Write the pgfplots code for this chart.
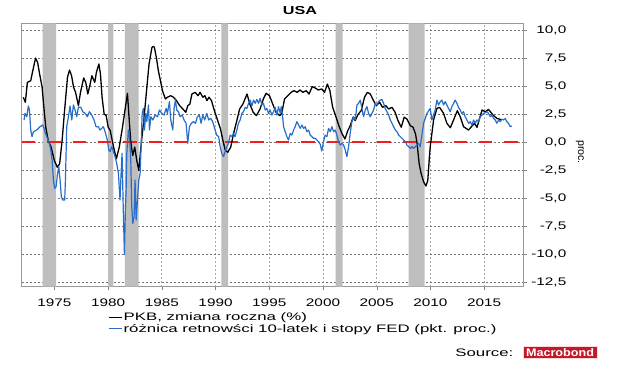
\documentclass[border=0pt]{standalone}
\usepackage{pgfplots}
\pgfplotsset{compat=1.18}
\usepackage{fontspec}
\setmainfont{Liberation Sans}
\newfontfamily\tickfont{Liberation Sans}[FakeStretch=1.4]
\newfontfamily\legfont{Liberation Sans}[FakeStretch=1.55]
\newfontfamily\logofont{Liberation Sans}[FakeStretch=1.15]
\definecolor{serblue}{RGB}{40,110,200}
\definecolor{zeroline}{RGB}{240,30,30}
\definecolor{recgray}{RGB}{190,190,190}
\definecolor{logored}{RGB}{195,25,40}
\begin{document}
\begin{tikzpicture}
\path[use as bounding box] (0,0) rectangle (640bp,367bp);
\begin{axis}[
  at={(21.7bp,80.3bp)}, anchor=south west,
  width=501.6bp, height=263.4bp, scale only axis,
  xmin=1971.96, xmax=2018.64, ymin=-12.93, ymax=10.61,
  xtick={1975,1980,...,2015},
  ytick={-12.5,-10,-7.5,-5,-2.5,0,2.5,5,7.5,10},
  yticklabel pos=right, ytick pos=right, xtick pos=bottom,
  tick align=outside, major tick length=3.5bp,
  axis line style={draw=gray!80, line width=0.7bp},
  xmajorgrids=true, ymajorgrids=true,
  major x grid style={black!35, line width=0.7bp, dash pattern=on 2bp off 2bp},
  major y grid style={black!55, line width=0.7bp, dash pattern=on 2bp off 2bp},
  /pgf/number format/assume math mode=true,
  ticklabel style={font=\tickfont\fontsize{11}{12}\selectfont},
  xticklabel style={/pgf/number format/1000 sep={}, anchor=base, yshift=-16bp},
  yticklabel style={/pgf/number format/.cd, fixed, fixed zerofill, precision=1, use comma, /tikz/.cd, anchor=east, xshift=43bp},
  legend style={at={(axis description cs:0.172,-0.096)}, anchor=north west,
    draw=none, fill=none, inner sep=0pt, outer sep=0pt,
    font=\legfont\fontsize{10.9}{12}\selectfont,
    row sep=0.3bp, nodes={inner sep=0.8bp}},
  legend cell align=left,
  legend image code/.code={\draw[#1,line width=1.3bp] (0bp,0bp) -- (13.5bp,0bp);},
]
% recession bands
\addplot[draw=none, fill=recgray, forget plot] coordinates {(1973.90,-12.93) (1975.16,-12.93) (1975.16,10.61) (1973.90,10.61) (1973.90,-12.93)};
\addplot[draw=none, fill=recgray, forget plot] coordinates {(1980.00,-12.93) (1980.50,-12.93) (1980.50,10.61) (1980.00,10.61) (1980.00,-12.93)};
\addplot[draw=none, fill=recgray, forget plot] coordinates {(1981.57,-12.93) (1982.85,-12.93) (1982.85,10.61) (1981.57,10.61) (1981.57,-12.93)};
\addplot[draw=none, fill=recgray, forget plot] coordinates {(1990.55,-12.93) (1991.17,-12.93) (1991.17,10.61) (1990.55,10.61) (1990.55,-12.93)};
\addplot[draw=none, fill=recgray, forget plot] coordinates {(2001.18,-12.93) (2001.82,-12.93) (2001.82,10.61) (2001.18,10.61) (2001.18,-12.93)};
\addplot[draw=none, fill=recgray, forget plot] coordinates {(2007.96,-12.93) (2009.45,-12.93) (2009.45,10.61) (2007.96,10.61) (2007.96,-12.93)};
% zero line
\addplot[zeroline, line width=2.8bp, dash pattern=on 13.5bp off 11.9bp, forget plot] coordinates {(1971.96,0) (2018.3,0)};
% GDP
\addplot[black, line width=1.3bp, line join=round] coordinates {
(1972.11,4.00) (1972.30,3.55) (1972.49,5.33) (1972.80,5.48) (1972.99,6.37) (1973.25,7.50) (1973.44,7.12) (1973.63,6.07) (1973.86,4.89) (1974.05,2.81) (1974.20,1.32) (1974.43,0.13) (1974.70,-0.46) (1975.00,-1.65) (1975.27,-2.25) (1975.49,-1.95) (1975.72,0.13) (1975.95,2.81) (1976.22,5.78) (1976.41,6.43) (1976.60,5.93) (1976.79,4.89) (1976.97,4.44) (1977.24,3.25) (1977.43,4.44) (1977.73,5.72) (1977.92,5.33) (1978.11,4.29) (1978.30,5.04) (1978.49,5.93) (1978.76,5.33) (1978.91,6.22) (1979.14,6.97) (1979.29,6.08) (1979.44,4.00) (1979.63,2.51) (1979.82,2.36) (1980.01,1.32) (1980.20,1.02) (1980.51,-0.46) (1980.77,-1.50) (1981.04,-0.46) (1981.34,1.32) (1981.61,3.10) (1981.80,4.35) (1981.95,2.21) (1982.10,0.13) (1982.29,-1.21) (1982.48,-0.46) (1982.67,-1.65) (1982.86,-2.54) (1983.05,-0.46) (1983.32,1.91) (1983.55,4.29) (1983.81,6.97) (1984.08,8.45) (1984.22,8.55) (1984.31,8.45) (1984.49,7.56) (1984.68,6.37) (1984.87,5.48) (1985.06,4.59) (1985.33,3.85) (1985.52,4.00) (1985.82,4.14) (1986.09,4.00) (1986.36,3.70) (1986.66,3.25) (1986.96,2.95) (1987.23,2.66) (1987.42,3.25) (1987.61,3.40) (1987.80,4.29) (1988.10,4.44) (1988.37,4.14) (1988.56,4.44) (1988.82,4.00) (1989.01,4.14) (1989.20,3.70) (1989.39,4.00) (1989.62,3.70) (1989.89,2.81) (1990.15,2.06) (1990.46,1.17) (1990.69,0.13) (1990.91,-0.76) (1991.14,-0.91) (1991.41,-0.46) (1991.67,0.73) (1991.98,1.91) (1992.24,2.95) (1992.55,3.40) (1992.93,4.29) (1993.19,3.40) (1993.50,2.66) (1993.80,2.36) (1994.14,2.95) (1994.45,3.85) (1994.71,4.35) (1995.02,4.14) (1995.32,3.40) (1995.62,2.66) (1995.96,2.36) (1996.15,2.51) (1996.42,3.85) (1996.72,4.14) (1997.03,4.44) (1997.29,4.59) (1997.60,4.44) (1997.86,4.65) (1998.13,4.44) (1998.43,4.59) (1998.70,4.29) (1999.00,4.95) (1999.27,4.83) (1999.57,4.65) (1999.88,4.74) (2000.14,4.44) (2000.41,5.18) (2000.64,4.59) (2000.90,3.10) (2001.17,2.36) (2001.47,1.47) (2001.78,0.73) (2002.04,0.28) (2002.31,1.02) (2002.54,1.47) (2002.80,2.21) (2002.99,1.91) (2003.29,2.51) (2003.56,2.81) (2003.86,4.00) (2004.13,4.44) (2004.40,4.29) (2004.70,3.70) (2004.97,3.25) (2005.27,3.55) (2005.54,3.10) (2005.84,3.25) (2006.11,2.95) (2006.41,3.10) (2006.71,2.66) (2006.98,1.91) (2007.28,1.32) (2007.55,2.21) (2007.81,2.06) (2008.12,1.47) (2008.38,1.32) (2008.61,0.73) (2008.76,-0.17) (2008.95,-1.95) (2009.14,-2.84) (2009.37,-3.58) (2009.58,-3.93) (2009.75,-3.44) (2009.90,-1.36) (2009.98,-0.40) (2010.29,1.97) (2010.60,3.00) (2010.85,3.10) (2011.22,2.56) (2011.53,1.67) (2011.85,1.28) (2012.15,1.97) (2012.50,2.80) (2012.77,2.26) (2013.08,1.37) (2013.55,1.07) (2013.86,1.43) (2014.10,1.67) (2014.33,1.31) (2014.80,2.86) (2015.10,2.70) (2015.40,2.92) (2015.82,2.41) (2016.20,2.10) (2016.60,2.00)
};
\addlegendentry{PKB, zmiana roczna (\%)}
% spread
\addplot[serblue, line width=1.2bp, line join=round] coordinates {
(1972.18,1.97) (1972.27,2.56) (1972.43,2.26) (1972.58,3.22) (1972.68,2.86) (1972.80,1.07) (1972.92,0.48) (1973.05,0.92) (1973.36,1.07) (1973.67,1.37) (1973.92,1.52) (1974.04,1.22) (1974.17,0.77) (1974.35,0.33) (1974.54,-0.12) (1974.66,-0.71) (1974.79,-1.61) (1974.91,-3.40) (1975.03,-4.14) (1975.16,-4.00) (1975.28,-2.95) (1975.41,-2.20) (1975.53,-3.40) (1975.65,-4.89) (1975.78,-5.18) (1975.96,-5.18) (1976.03,-3.40) (1976.09,-1.01) (1976.15,1.37) (1976.31,2.26) (1976.46,3.22) (1976.62,1.97) (1976.77,3.31) (1976.93,2.86) (1977.08,2.26) (1977.24,3.10) (1977.46,3.10) (1977.64,2.71) (1977.86,2.56) (1978.08,2.26) (1978.26,2.71) (1978.48,2.41) (1978.69,1.97) (1978.88,1.37) (1979.10,1.37) (1979.25,1.07) (1979.41,1.22) (1979.56,1.37) (1979.72,0.92) (1979.93,0.18) (1980.06,-0.71) (1980.18,-0.86) (1980.34,-0.41) (1980.49,-0.86) (1980.65,-1.31) (1980.80,-1.91) (1980.96,-2.80) (1981.11,-5.18) (1981.21,-2.80) (1981.30,-1.01) (1981.42,-6.37) (1981.52,-10.05) (1981.61,-6.00) (1981.67,-4.60) (1981.74,-1.01) (1981.89,1.07) (1981.99,0.48) (1982.11,-1.61) (1982.20,-5.78) (1982.30,-7.27) (1982.42,-6.67) (1982.51,-3.40) (1982.61,-6.97) (1982.73,-5.18) (1982.86,-3.40) (1982.98,-2.80) (1983.07,-0.42) (1983.17,2.56) (1983.29,3.00) (1983.38,1.07) (1983.51,2.56) (1983.60,1.82) (1983.76,3.31) (1983.85,1.07) (1983.98,2.26) (1984.16,1.97) (1984.38,2.41) (1984.60,2.26) (1984.78,2.86) (1985.00,2.56) (1985.21,2.41) (1985.40,3.00) (1985.52,2.56) (1985.71,3.61) (1985.83,1.97) (1986.02,1.07) (1986.14,3.00) (1986.27,3.75) (1986.39,2.86) (1986.55,2.71) (1986.70,2.26) (1986.89,2.41) (1987.07,1.97) (1987.26,1.67) (1987.41,-0.12) (1987.57,1.37) (1987.75,1.67) (1987.94,1.82) (1988.13,1.67) (1988.31,2.26) (1988.50,2.41) (1988.65,1.67) (1988.81,2.41) (1988.99,1.97) (1989.18,2.56) (1989.36,1.97) (1989.55,2.11) (1989.73,1.82) (1989.92,1.22) (1990.10,0.62) (1990.29,0.48) (1990.43,-0.42) (1990.58,-1.01) (1990.74,-1.31) (1990.89,-0.86) (1991.05,-0.42) (1991.20,-0.12) (1991.36,0.62) (1991.51,0.48) (1991.67,0.77) (1991.82,0.48) (1991.98,1.07) (1992.13,1.67) (1992.29,1.97) (1992.45,2.56) (1992.60,2.71) (1992.76,3.10) (1992.91,3.00) (1993.07,3.46) (1993.22,3.75) (1993.38,3.22) (1993.53,3.75) (1993.69,3.46) (1993.84,3.81) (1994.00,3.46) (1994.15,3.90) (1994.31,3.31) (1994.46,3.46) (1994.62,2.86) (1994.77,3.00) (1994.93,2.56) (1995.08,2.86) (1995.24,2.41) (1995.40,2.71) (1995.55,3.10) (1995.71,2.41) (1995.86,3.16) (1996.02,2.56) (1996.11,3.16) (1996.24,2.26) (1996.33,1.37) (1996.48,0.92) (1996.64,0.48) (1996.79,0.18) (1996.95,0.77) (1997.10,0.62) (1997.26,1.07) (1997.41,1.37) (1997.57,1.82) (1997.73,1.52) (1997.88,1.22) (1998.04,1.52) (1998.19,1.22) (1998.35,1.37) (1998.50,0.92) (1998.66,1.07) (1998.81,0.62) (1998.97,0.48) (1999.12,0.33) (1999.28,0.33) (1999.43,0.18) (1999.59,0.03) (1999.74,-0.20) (1999.89,-0.80) (2000.05,0.05) (2000.20,0.62) (2000.36,0.48) (2000.52,1.22) (2000.67,0.92) (2000.83,1.37) (2000.98,0.92) (2001.14,1.07) (2001.29,0.62) (2001.45,0.03) (2001.60,-0.27) (2001.76,-0.12) (2001.91,-0.27) (2002.07,-0.71) (2002.22,-1.31) (2002.38,-0.42) (2002.53,0.77) (2002.69,1.82) (2002.85,2.26) (2003.00,1.97) (2003.16,3.31) (2003.31,3.46) (2003.47,3.75) (2003.62,3.00) (2003.78,2.26) (2003.93,2.86) (2004.09,3.16) (2004.24,2.56) (2004.40,2.26) (2004.55,2.56) (2004.71,2.86) (2004.86,3.46) (2005.02,3.31) (2005.17,3.61) (2005.33,3.75) (2005.48,3.81) (2005.64,3.46) (2005.79,3.00) (2005.95,2.71) (2006.11,2.41) (2006.26,1.97) (2006.42,1.67) (2006.57,1.37) (2006.73,1.07) (2006.88,0.92) (2007.04,0.62) (2007.19,0.48) (2007.35,0.33) (2007.50,0.18) (2007.66,0.03) (2007.81,-0.27) (2007.97,-0.42) (2008.12,-0.57) (2008.28,-0.42) (2008.43,-0.57) (2008.59,-0.42) (2008.74,-0.27) (2008.90,-0.12) (2009.05,-0.42) (2009.36,1.67) (2009.67,2.56) (2009.98,3.00) (2010.13,1.97) (2010.44,2.86) (2010.60,3.75) (2010.75,3.31) (2010.91,3.60) (2011.06,3.75) (2011.22,3.31) (2011.37,3.61) (2011.53,3.31) (2011.68,3.00) (2011.84,2.71) (2011.99,3.16) (2012.15,3.46) (2012.30,3.75) (2012.46,3.46) (2012.61,3.10) (2012.77,2.86) (2012.92,2.56) (2013.08,2.71) (2013.23,2.26) (2013.39,1.97) (2013.55,1.67) (2013.70,1.82) (2013.86,1.52) (2014.01,1.97) (2014.17,1.67) (2014.32,1.97) (2014.48,1.82) (2014.63,2.26) (2014.79,2.41) (2014.94,2.56) (2015.10,2.62) (2015.25,2.71) (2015.41,2.56) (2015.56,2.26) (2015.72,2.41) (2015.87,2.11) (2016.03,1.97) (2016.18,1.67) (2016.34,1.97) (2016.49,1.82) (2016.65,2.03) (2016.80,1.97) (2016.96,2.11) (2017.11,1.82) (2017.27,1.67) (2017.42,1.37) (2017.58,1.43)
};
\addlegendentry{różnica retnowści 10-latek i stopy FED (pkt. proc.)}
\end{axis}
\node[font=\tickfont\bfseries\fontsize{11.6}{13}\selectfont] at (300bp,356bp) {USA};
\node[rotate=-90, font=\fontsize{10.7}{12}\selectfont] at (580bp,215bp) {proc.};
\node[anchor=east, inner sep=0pt, font=\legfont\fontsize{10.9}{12}\selectfont] at (513.6bp,14.3bp) {Source:};
\node[fill=logored, draw=white!85!red, line width=0.8bp, minimum width=74bp, minimum height=12bp, inner sep=0pt, text=white, font=\logofont\bfseries\fontsize{11}{12}\selectfont] at (560bp,14.5bp) {Macrobond};
\end{tikzpicture}
\end{document}
